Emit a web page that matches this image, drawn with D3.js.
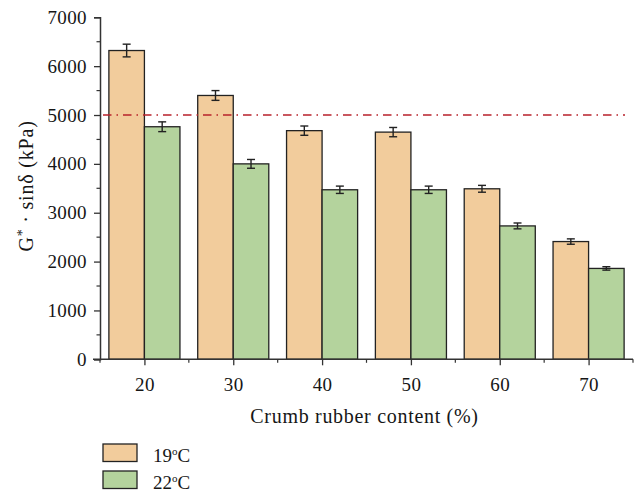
<!DOCTYPE html>
<html>
<head>
<meta charset="utf-8">
<script src="https://cdn.jsdelivr.net/npm/d3@7"></script>
<style>
  body { margin: 0; background: #fff; }
  text { font-family: "Liberation Serif", "DejaVu Serif", serif; fill: #161616; }
</style>
</head>
<body>
<svg id="chart" width="638" height="492"></svg>
<script>
// data
const contents = ["20", "30", "40", "50", "60", "70"]
const series = ["19", "22"]
const values19 = [6320, 5400, 4680, 4650, 3490, 2410]
const errors19 = [130, 100, 95, 95, 70, 55]
const values22 = [4760, 4000, 3470, 3470, 2730, 1860]
const errors22 = [100, 90, 75, 75, 60, 35]
const yTicks = [0, 1000, 2000, 3000, 4000, 5000, 6000, 7000]
const limitValue = 5000

const colors = { "19": "#f2cc9c", "22": "#b4d39d" }

const svg = d3.select("#chart")
const plotLeft = 100, plotRight = 633, plotTop = 17.3, plotBottom = 359.3

const x = d3.scaleBand()
    .domain(contents)
    .range([plotLeft, plotRight])
    .paddingInner(0.2)
    .paddingOuter(0.1)

// full band (no padding) for minor ticks
const xFull = d3.scaleBand().domain(contents).range([plotLeft, plotRight])

const xSub = d3.scaleBand()
    .domain(series)
    .range([0, x.bandwidth()])

const y = d3.scaleLinear()
    .domain([0, 7000])
    .range([plotBottom, plotTop])

const rows = contents.map((c, i) => ({
    c,
    items: [
        { s: "19", v: values19[i], e: errors19[i] },
        { s: "22", v: values22[i], e: errors22[i] }
    ]
}))

// bars
const groups = svg.selectAll(".grp")
    .data(rows)
    .enter().append("g")
    .attr("transform", d => `translate(${x(d.c)},0)`)

groups.selectAll("rect")
    .data(d => d.items)
    .enter().append("rect")
    .attr("x", d => xSub(d.s))
    .attr("y", d => y(d.v))
    .attr("width", xSub.bandwidth())
    .attr("height", d => y(0) - y(d.v))
    .attr("fill", d => colors[d.s])
    .attr("stroke", "#222")
    .attr("stroke-width", 1.3)

// error bars
const err = groups.selectAll(".err")
    .data(d => d.items)
    .enter().append("g")
    .attr("stroke", "#222")
    .attr("stroke-width", 1.4)
const cx = d => xSub(d.s) + xSub.bandwidth() / 2
err.append("line")
    .attr("x1", cx).attr("x2", cx)
    .attr("y1", d => y(d.v + d.e)).attr("y2", d => y(d.v - d.e))
err.append("line")
    .attr("x1", d => cx(d) - 4).attr("x2", d => cx(d) + 4)
    .attr("y1", d => y(d.v + d.e)).attr("y2", d => y(d.v + d.e))
err.append("line")
    .attr("x1", d => cx(d) - 4).attr("x2", d => cx(d) + 4)
    .attr("y1", d => y(d.v - d.e)).attr("y2", d => y(d.v - d.e))

// 5000 limit line
svg.append("line")
    .attr("x1", 103).attr("x2", 625)
    .attr("y1", y(limitValue)).attr("y2", y(limitValue))
    .attr("stroke", "#b8202a")
    .attr("stroke-width", 1.3)
    .attr("stroke-dasharray", "8.5,5,1.5,5")

// y axis
const yAxis = d3.axisLeft(y)
    .tickValues(yTicks)
    .tickFormat(d3.format("d"))
    .tickSize(6)
    .tickPadding(7)
const gy = svg.append("g")
    .attr("transform", `translate(${plotLeft},0)`)
    .call(yAxis)
gy.select(".domain").attr("stroke", "#333").attr("stroke-width", 1.5)
gy.selectAll(".tick line").attr("stroke", "#333").attr("stroke-width", 1.3)
gy.selectAll("text").attr("font-size", 19).attr("letter-spacing", 0.4)
    .attr("font-family", "Liberation Serif").attr("fill", "#161616")
// minor y ticks
svg.append("g").selectAll("line")
    .data(d3.range(500, 7000, 1000))
    .enter().append("line")
    .attr("x1", plotLeft - 3.5).attr("x2", plotLeft)
    .attr("y1", d => y(d)).attr("y2", d => y(d))
    .attr("stroke", "#333").attr("stroke-width", 1.2)

// x axis
const xCenter = d3.scalePoint().domain(contents)
    .range([plotLeft + xFull.bandwidth() / 2, plotRight - xFull.bandwidth() / 2])
const xAxis = d3.axisBottom(xCenter)
    .tickSize(6)
    .tickPadding(12)
    .tickSizeOuter(0)
const gx = svg.append("g")
    .attr("transform", `translate(0,${plotBottom})`)
    .call(xAxis)
gx.select(".domain").attr("d", `M${plotLeft - 7},0H${plotRight}`).attr("stroke", "#333").attr("stroke-width", 1.5)
gx.selectAll(".tick line").attr("stroke", "#333").attr("stroke-width", 1.3)
gx.selectAll("text").attr("font-size", 19).attr("letter-spacing", 0.4)
    .attr("font-family", "Liberation Serif").attr("fill", "#161616")
// minor x ticks at band edges
svg.append("g").selectAll("line")
    .data(contents.map(c => xFull(c)).concat([plotRight]))
    .enter().append("line")
    .attr("x1", d => d).attr("x2", d => d)
    .attr("y1", plotBottom).attr("y2", plotBottom + 3.5)
    .attr("stroke", "#333").attr("stroke-width", 1.2)

// axis titles
svg.append("text")
    .attr("x", (plotLeft + plotRight) / 2 - 2)
    .attr("y", 423)
    .attr("text-anchor", "middle")
    .attr("font-size", 20)
    .attr("letter-spacing", 0.7)
    .text("Crumb rubber content (%)")

const ylab = svg.append("text")
    .attr("transform", `translate(32.5,186) rotate(-90)`)
    .attr("text-anchor", "middle")
    .attr("font-size", 20)
    .attr("letter-spacing", 0.8)
ylab.append("tspan").text("G")
ylab.append("tspan").attr("dy", -6).attr("font-size", 14).text("*")
ylab.append("tspan").attr("dy", 6).text(" · sinδ (kPa)")

// legend
const legend = svg.append("g").selectAll("g")
    .data(series)
    .enter().append("g")
    .attr("transform", (d, i) => `translate(103,${444 + i * 27})`)
legend.append("rect")
    .attr("width", 34).attr("height", 17.5)
    .attr("fill", d => colors[d])
    .attr("stroke", "#222").attr("stroke-width", 1.3)
const lt = legend.append("text")
    .attr("x", 50).attr("y", 17.5)
    .attr("font-size", 19)
lt.append("tspan").text(d => d)
lt.append("tspan").attr("dy", -7).attr("font-size", 11).text("o")
lt.append("tspan").attr("dy", 7).text("C")
</script>
</body>
</html>
